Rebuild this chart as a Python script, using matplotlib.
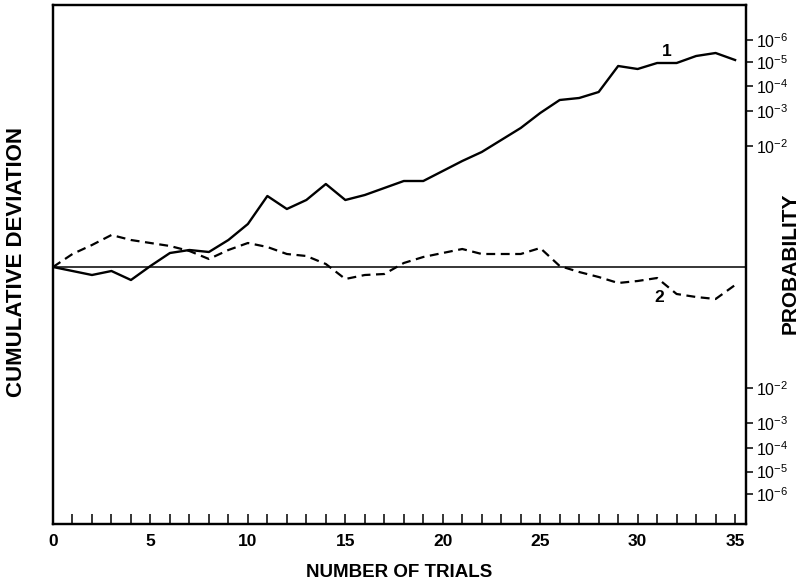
import matplotlib
matplotlib.use("Agg")
import matplotlib.pyplot as plt

plt.rcParams['font.family'] = ['Liberation Sans', 'DejaVu Sans']
plt.rcParams['mathtext.fontset'] = 'custom'
plt.rcParams['mathtext.rm'] = 'Liberation Sans'
plt.rcParams['mathtext.it'] = 'Liberation Sans'
plt.rcParams['mathtext.bf'] = 'Liberation Sans:bold'

# Data (cumulative deviation, arbitrary units)
trials = list(range(0, 36))
curve1 = [0, -0.4, -0.8, -0.4, -1.3, 0.1, 1.4, 1.7, 1.5, 2.7,
          4.3, 7.1, 5.8, 6.7, 8.3, 6.7, 7.2, 7.9, 8.6, 8.6,
          9.6, 10.6, 11.5, 12.7, 13.9, 15.4, 16.7, 16.9, 17.5, 20.1,
          19.8, 20.4, 20.4, 21.1, 21.4, 20.7]
curve2 = [0, 1.3, 2.2, 3.2, 2.7, 2.4, 2.1, 1.6, 0.8, 1.7,
          2.4, 2.0, 1.3, 1.1, 0.3, -1.2, -0.8, -0.7, 0.4, 1.0,
          1.4, 1.8, 1.3, 1.3, 1.3, 1.9, 0.1, -0.5, -1.0, -1.6,
          -1.4, -1.1, -2.7, -3.0, -3.2, -1.8]
prob_exponents = [-2, -3, -4, -5, -6]
prob_levels = [12.1, 15.6, 18.1, 20.45, 22.7]
x_major = [0, 5, 10, 15, 20, 25, 30, 35]

fig = plt.figure(figsize=(8.06, 5.85), dpi=100)
ax = fig.add_axes([53/806, 1 - 524/585, (746 - 53)/806, (524 - 5)/585])

ax.plot(trials, curve1, color='black', lw=1.7, solid_joinstyle='round')
ax.plot(trials, curve2, color='black', lw=1.6, linestyle=(0, (4, 2.5)))
ax.axhline(0, color='black', lw=1.1)

ax.set_xlim(0, 35.56)
ax.set_ylim(-25.7, 26.2)

# Right probability axis
ax2 = ax.twinx()
ax2.set_ylim(ax.get_ylim())
pos = [v for v in prob_levels] + [-v for v in prob_levels]
labs = [r'$10^{%d}$' % e for e in prob_exponents] * 2
ax2.set_yticks(pos)
ax2.set_yticklabels(labs, fontsize=11.5)
ax2.tick_params(axis='y', direction='out', length=5, width=1.1, pad=2)
for s in ax2.spines.values():
    s.set_linewidth(1.6)

for s in ax.spines.values():
    s.set_linewidth(1.6)
ax.set_yticks([])
ax.tick_params(axis='y', which='both', left=False, right=False,
               labelleft=False, labelright=False)

ax.set_xticks(x_major)
ax.set_xticklabels([str(v) for v in x_major], fontsize=12.5, fontweight='bold')
ax.set_xticks(trials, minor=True)
ax.tick_params(axis='x', which='both', direction='in', length=7, width=1.1,
               pad=7, top=False)

ax.set_xlabel('NUMBER OF TRIALS', fontsize=13.5, fontweight='bold', labelpad=11)
fig.text(17/806, 1 - 262/585, 'CUMULATIVE DEVIATION', rotation=90,
         ha='center', va='center', fontsize=16, fontweight='bold')
fig.text(790/806, 1 - 263/585, 'PROBABILITY', rotation=90,
         ha='center', va='center', fontsize=15, fontweight='bold')

ax.text(31.5, 21.5, '1', fontsize=12.5, fontweight='bold', ha='center', va='center')
ax.text(31.1, -3.0, '2', fontsize=12.5, fontweight='bold', ha='center', va='center')

fig.savefig('out.png', dpi=100)
